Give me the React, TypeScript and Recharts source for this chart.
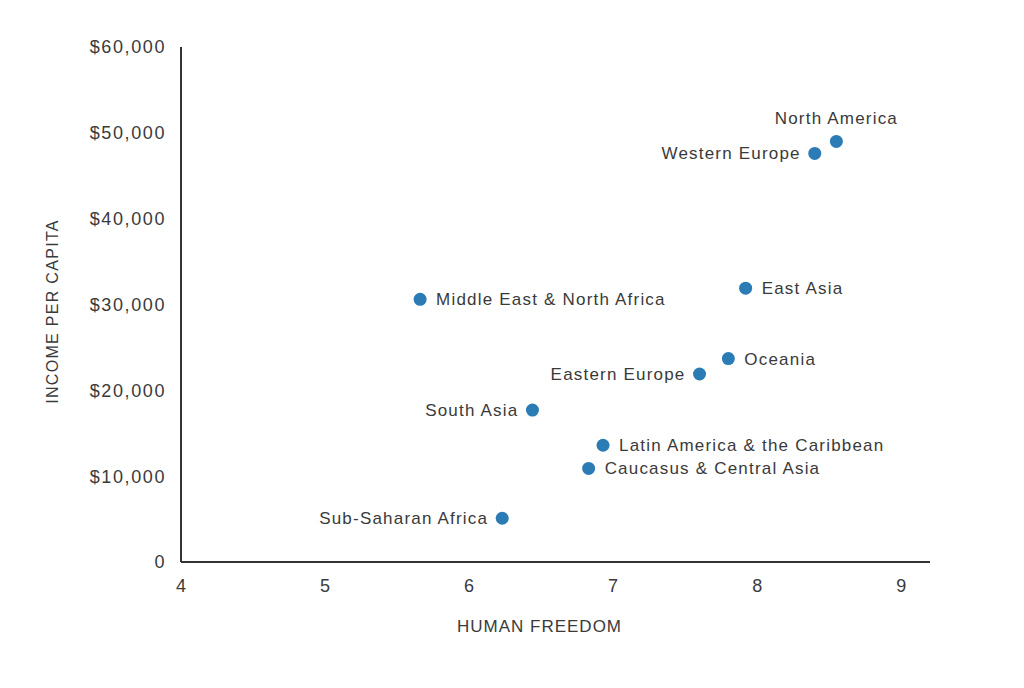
import React from "react"
import { ScatterChart, Scatter, XAxis, YAxis, Label } from "recharts"

const regions = [
  "North America",
  "Western Europe",
  "East Asia",
  "Middle East & North Africa",
  "Oceania",
  "Eastern Europe",
  "South Asia",
  "Latin America & the Caribbean",
  "Caucasus & Central Asia",
  "Sub-Saharan Africa",
]
const freedom = [8.55, 8.4, 7.92, 5.66, 7.8, 7.6, 6.44, 6.93, 6.83, 6.23]
const income = [49000, 47600, 31900, 30600, 23700, 21900, 17700, 13600, 10900, 5100]

const xTicks = [4, 5, 6, 7, 8, 9]
const yTicks = [0, 10000, 20000, 30000, 40000, 50000, 60000]

// where each name sits relative to its dot
const labelSide: Record<string, "left" | "right" | "top"> = {
  "North America": "top",
  "Western Europe": "left",
  "East Asia": "right",
  "Middle East & North Africa": "right",
  Oceania: "right",
  "Eastern Europe": "left",
  "South Asia": "left",
  "Latin America & the Caribbean": "right",
  "Caucasus & Central Asia": "right",
  "Sub-Saharan Africa": "left",
}

const data = regions.map((name, i) => ({ name, freedom: freedom[i], income: income[i] }))

const FONT = "'Liberation Sans', Arial, sans-serif"
const TEXT = "#3a3a3a"
const DOT = "#2b7bb5"

const formatIncome = (v: number) => (v === 0 ? "0" : `$${v.toLocaleString("en-US")}`)

function DotWithLabel(props: any) {
  const { cx, cy, payload } = props
  const side = labelSide[payload.name]
  let x = cx + 16
  let y = cy + 6
  let anchor: "start" | "end" | "middle" = "start"
  if (side === "left") {
    x = cx - 14
    anchor = "end"
  } else if (side === "top") {
    x = cx
    y = cy - 17
    anchor = "middle"
  }
  return (
    <g>
      <circle cx={cx} cy={cy} r={6.5} fill={DOT} />
      <text
        x={x}
        y={y}
        textAnchor={anchor}
        fill={TEXT}
        fontSize={17}
        fontFamily={FONT}
        style={{ letterSpacing: "1.2px" }}
      >
        {payload.name}
      </text>
    </g>
  )
}

function YTitle({ viewBox }: any) {
  const x = viewBox.x + 52
  const y = viewBox.y + viewBox.height / 2 + 7
  return (
    <text
      x={x}
      y={y}
      transform={`rotate(-90, ${x}, ${y})`}
      textAnchor="middle"
      dominantBaseline="central"
      fill={TEXT}
      fontSize={16}
      fontFamily={FONT}
      style={{ letterSpacing: "1.3px" }}
    >
      INCOME PER CAPITA
    </text>
  )
}

export default function App() {
  return (
    <div style={{ position: "absolute", left: 0, top: 0, width: 1024, height: 688, background: "#fff" }}>
      <ScatterChart width={1024} height={688} margin={{ top: 47, right: 94, bottom: 0, left: 0 }}>
        <XAxis
          type="number"
          dataKey="freedom"
          domain={[4, 9.2]}
          ticks={xTicks}
          tickLine={false}
          tickMargin={11}
          axisLine={{ stroke: "#333", strokeWidth: 2 }}
          tick={{ fill: TEXT, fontSize: 18, fontFamily: FONT }}
          height={126}
        >
          <Label
            value="HUMAN FREEDOM"
            position="insideTop"
            offset={58}
            dx={-16}
            fill={TEXT}
            fontSize={17}
            fontFamily={FONT}
            style={{ letterSpacing: "1px" }}
          />
        </XAxis>
        <YAxis
          type="number"
          dataKey="income"
          domain={[0, 60000]}
          ticks={yTicks}
          tickLine={false}
          tickMargin={9}
          tickFormatter={formatIncome}
          axisLine={{ stroke: "#333", strokeWidth: 2 }}
          tick={{ fill: TEXT, fontSize: 18, fontFamily: FONT, style: { letterSpacing: "1.6px" } }}
          width={181}
        >
          <Label content={YTitle} />
        </YAxis>
        <Scatter data={data} fill={DOT} shape={DotWithLabel} isAnimationActive={false} />
      </ScatterChart>
    </div>
  )
}
